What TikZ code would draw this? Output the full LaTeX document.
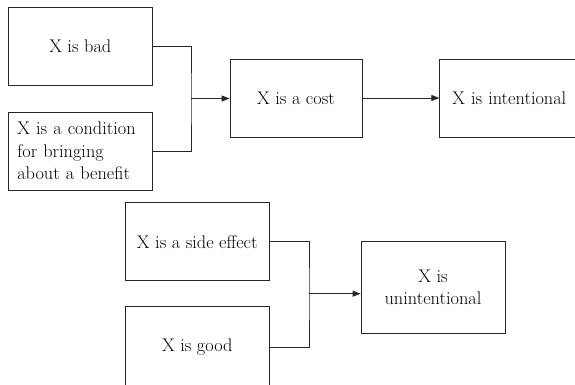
\documentclass[tikz,border=0pt]{standalone}
\usetikzlibrary{arrows.meta}
\begin{document}
\begin{tikzpicture}[x=1pt,y=-1pt,
  box/.style={draw=black!85,line width=0.9pt,rectangle,inner sep=0pt,
    font=\fontsize{18.3}{22.5}\selectfont,text=black,align=center},
  conn/.style={draw=black!85,line width=0.9pt},
  arr/.style={conn,-{Triangle[length=8pt,width=6pt]}}]
\useasboundingbox (0,0) rectangle (575,385);
\clip (0,0) rectangle (575,385);
\node[box,minimum width=144.5pt,minimum height=78pt] (bad) at (80.3,46) {X is bad};
\node[box,minimum width=144.5pt,minimum height=78pt,text width=126pt,align=left,inner xsep=9pt] (cond) at (80.3,151) {X is a condition\\for bringing\\about a benefit};
\node[box,minimum width=132pt,minimum height=78pt] (cost) at (296,98) {X is a cost};
\node[box,anchor=west,minimum height=78pt,text width=150pt,align=left,inner xsep=12.5pt] (int) at (439.3,98) {X is intentional};
\node[box,minimum width=143.3pt,minimum height=78pt] (side) at (197.3,241.7) {X is a side effect};
\node[box,minimum width=143.3pt,minimum height=80pt] (good) at (197.3,346.7) {X is good};
\node[box,minimum width=144pt,minimum height=91.6pt] (unint) at (433,287.5) {X is\\unintentional};
\coordinate (j1) at (191,98.5);
\coordinate (j2) at (309,293.7);
\draw[conn] (bad.east) -| (j1) |- (cond.east);
\draw[arr] (j1) -- (cost.west |- j1);
\draw[arr] (cost.east) -- (int.west);
\draw[conn] (side.east) -| (j2) |- ([yshift=-1pt]good.east);
\draw[arr] (j2) -- (unint.west |- j2);
\end{tikzpicture}
\end{document}
